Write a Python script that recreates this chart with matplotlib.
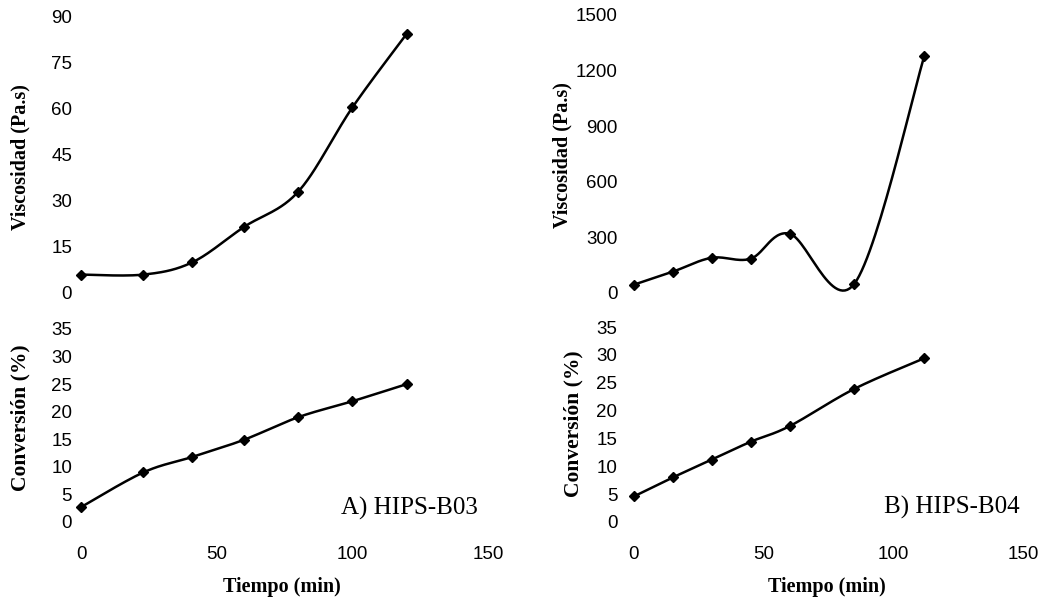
import numpy as np
import matplotlib.pyplot as plt

# HIPS-B03 (left)
t_b03 = [0, 23, 41, 60, 80, 100, 120]
visc_b03 = [6, 6, 10, 21.5, 33, 60.5, 84.5]
conv_b03 = [2.7, 9.0, 11.8, 14.9, 19.0, 21.9, 25.0]

# HIPS-B04 (right)
t_b04 = [0, 15, 30, 45, 60, 85, 112]
visc_b04 = [45, 115, 190, 185, 320, 50, 1280]
conv_b04 = [4.6, 8.0, 11.2, 14.4, 17.2, 23.9, 29.4]

visc_ticks_b03 = [0, 15, 30, 45, 60, 75, 90]
visc_ticks_b04 = [0, 300, 600, 900, 1200, 1500]
conv_ticks = [0, 5, 10, 15, 20, 25, 30, 35]
time_ticks = [0, 50, 100, 150]


def smooth(x, y, n=30):
    """Excel-style smoothed line (Catmull-Rom bezier through the points)."""
    p = np.column_stack([x, y]).astype(float)
    ext = np.vstack([p[0], p, p[-1]])
    out = []
    s = np.linspace(0, 1, n)[:, None]
    for i in range(len(p) - 1):
        p0, p1, p2, p3 = ext[i], ext[i + 1], ext[i + 2], ext[i + 3]
        c1 = p1 + (p2 - p0) / 6
        c2 = p2 - (p3 - p1) / 6
        seg = ((1 - s) ** 3) * p1 + 3 * ((1 - s) ** 2) * s * c1 + 3 * (1 - s) * s ** 2 * c2 + s ** 3 * p2
        out.append(seg)
    out = np.vstack(out)
    return out[:, 0], out[:, 1]


def draw(ax, x, y, yticks, pad):
    sx, sy = smooth(x, y)
    ax.plot(sx, sy, color='black', linewidth=1.8, clip_on=False)
    ax.plot(x, y, linestyle='none', marker='D', markersize=5.5, color='black', clip_on=False)
    ax.set_xlim(0, 150)
    ax.set_ylim(yticks[0], yticks[-1])
    ax.set_yticks(yticks)
    for s in ax.spines.values():
        s.set_visible(False)
    ax.tick_params(axis='y', length=0, pad=pad, labelsize=13.5)
    ax.set_facecolor('none')


plt.rcParams['font.family'] = ['Liberation Sans', 'DejaVu Sans']
fig = plt.figure(figsize=(10.51, 6.02), dpi=100)

ax1 = fig.add_axes([0.0771, 0.5133, 0.3873, 0.4585])
ax2 = fig.add_axes([0.0771, 0.1329, 0.3873, 0.3206])
ax3 = fig.add_axes([0.6032, 0.5133, 0.3701, 0.4618])
ax4 = fig.add_axes([0.6032, 0.1329, 0.3701, 0.3239])

draw(ax1, t_b03, visc_b03, visc_ticks_b03, 6.5)
draw(ax2, t_b03, conv_b03, conv_ticks, 6.5)
draw(ax3, t_b04, visc_b04, visc_ticks_b04, 12)
draw(ax4, t_b04, conv_b04, conv_ticks, 12)

for ax in (ax1, ax3):
    ax.set_xticks([])
for ax in (ax2, ax4):
    ax.set_xticks(time_ticks)
    ax.tick_params(axis='x', length=0, pad=17, labelsize=13.5)

serif = ['Liberation Serif', 'DejaVu Serif']
fig.text(20 / 1051, 1 - 157 / 602, 'Viscosidad (Pa.s)', rotation=90, ha='center', va='center',
         fontsize=14.5, fontweight='bold', family=serif)
fig.text(20 / 1051, 1 - 418 / 602, 'Conversión (%)', rotation=90, ha='center', va='center',
         fontsize=15.5, fontweight='bold', family=serif)
fig.text(562 / 1051, 1 - 155 / 602, 'Viscosidad (Pa.s)', rotation=90, ha='center', va='center',
         fontsize=14.5, fontweight='bold', family=serif)
fig.text(573 / 1051, 1 - 424 / 602, 'Conversión (%)', rotation=90, ha='center', va='center',
         fontsize=15.5, fontweight='bold', family=serif)
fig.text(282 / 1051, 1 - 587 / 602, 'Tiempo (min)', ha='center', va='center',
         fontsize=14.5, fontweight='bold', family=serif)
fig.text(827 / 1051, 1 - 587 / 602, 'Tiempo (min)', ha='center', va='center',
         fontsize=14.5, fontweight='bold', family=serif)
fig.text(478 / 1051, 1 - 508 / 602, 'A) HIPS-B03', ha='right', va='center',
         fontsize=18, family=serif)
fig.text(1020 / 1051, 1 - 507 / 602, 'B) HIPS-B04', ha='right', va='center',
         fontsize=18, family=serif)

fig.savefig('out.png', dpi=100)
